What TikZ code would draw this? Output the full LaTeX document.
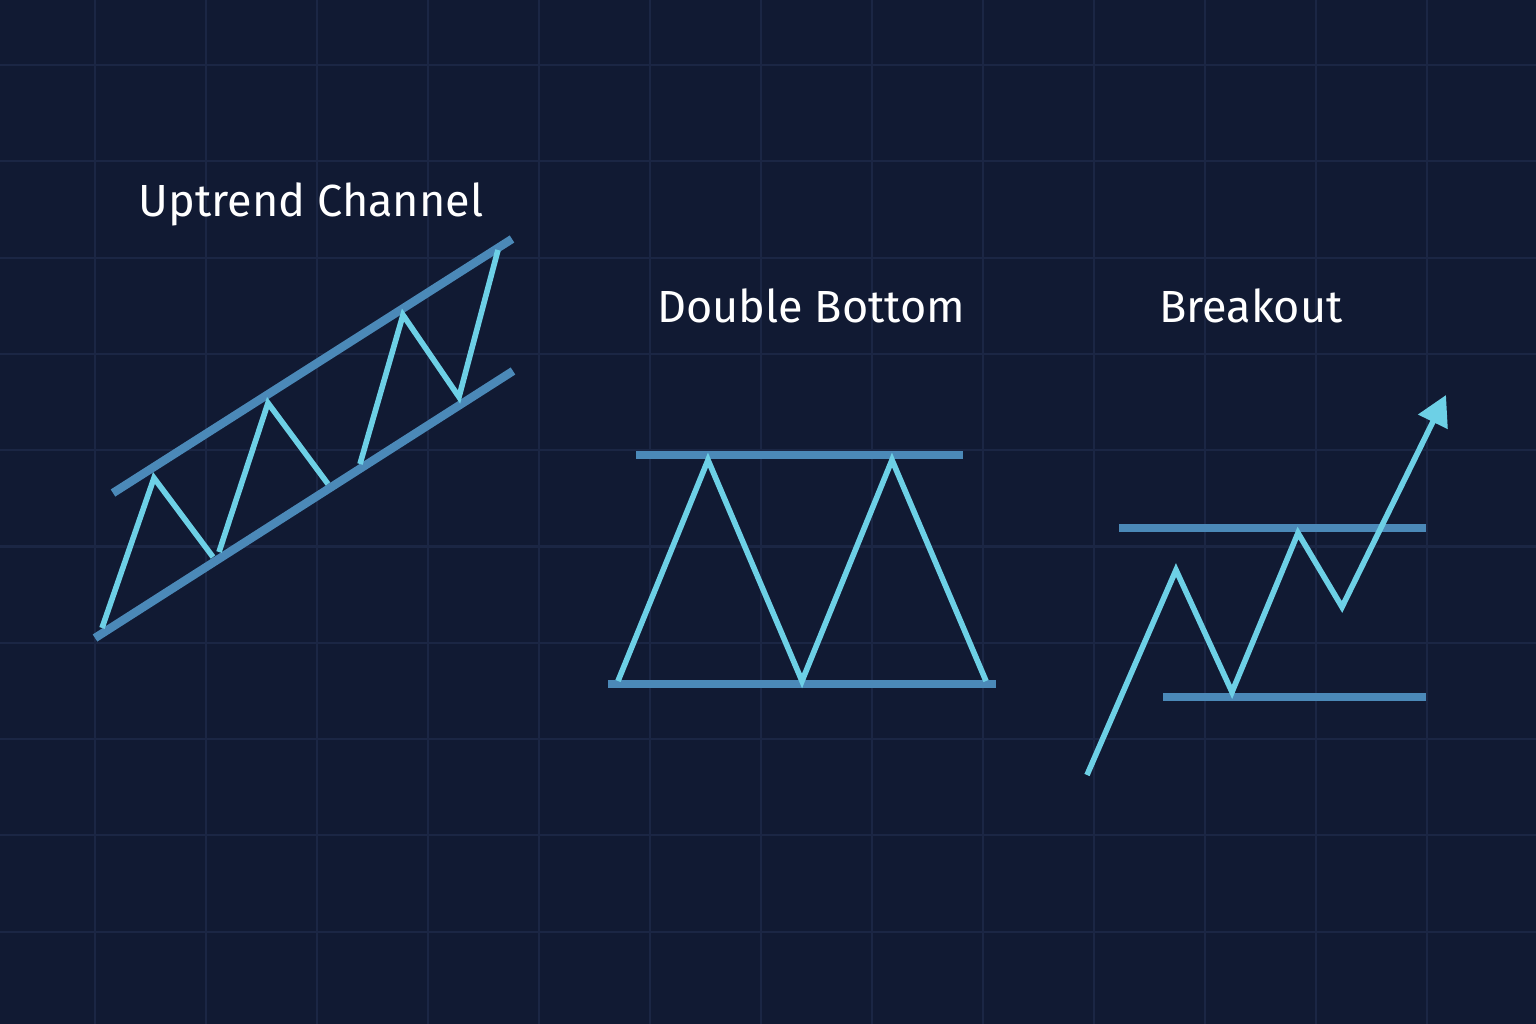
\documentclass[tikz,border=0pt]{standalone}
\usepackage{fontspec}
\setmainfont{Fira Sans}
\usetikzlibrary{arrows.meta}
\definecolor{bgnavy}{HTML}{111A33}
\definecolor{gridnavy}{HTML}{1B2644}
\definecolor{chanblue}{HTML}{4B89B8}
\definecolor{pricecyan}{HTML}{6DD0E6}
\begin{document}
\begin{tikzpicture}[
            x=0.01cm, y=-0.01cm,
            channel/.style={draw=chanblue,line width=2.4pt},
            price/.style={draw=pricecyan,line width=1.6pt,line join=miter},
            title/.style={text=white,font=\fontsize{12.8}{15}\selectfont,inner sep=0pt}
            ]
            \fill[bgnavy] (0,0) rectangle (1536,1024);
            \useasboundingbox (0,0) rectangle (1536,1024);
            % grid
            \foreach \gx in {0,...,12}
                \draw[gridnavy,line width=0.6pt] ({95+111*\gx},0) -- ({95+111*\gx},1024);
            \foreach \gy in {0,...,9}
                \draw[gridnavy,line width=0.6pt] (0,{65+96.3*\gy}) -- (1536,{65+96.3*\gy});
            % uptrend channel
            \node[title] (upt) at (311,204) {Uptrend Channel};
            \coordinate (u1) at (113,493);
            \coordinate (u2) at (512,239);
            \coordinate (l1) at (95,638);
            \coordinate (l2) at (513,371);
            \draw[channel] (u1) -- (u2);
            \draw[channel] (l1) -- (l2);
            \draw[price] (102,628) -- (154,478) -- (213,557);
            \draw[price] (219,552) -- (268,403) -- (328,484);
            \draw[price] (360,464) -- (403,315) -- (459,397) -- (498,250);
            % double bottom
            \node[title] (dbl) at (811,306) {Double Bottom};
            \coordinate (dt1) at (636,455);
            \coordinate (dt2) at (963,455);
            \coordinate (db1) at (608,684);
            \coordinate (db2) at (996,684);
            \draw[channel] (dt1) -- (dt2);
            \draw[channel] (db1) -- (db2);
            \draw[price] (618,681) -- (708,460) -- (802,681) -- (892,460) -- (986,681);
            % breakout
            \node[title] (brk) at (1251,306) {Breakout};
            \coordinate (bt1) at (1119,528);
            \coordinate (bt2) at (1426,528);
            \coordinate (bb1) at (1163,697);
            \coordinate (bb2) at (1426,697);
            \draw[channel] (bt1) -- (bt2);
            \draw[channel] (bb1) -- (bb2);
            \coordinate (tip) at (1446,395);
            \draw[price,-{Triangle[length=8.5pt,width=9pt]}] (1087,775) -- (1176,570) -- (1232,692) -- (1298,533) -- (1342,607) -- (tip);
        \end{tikzpicture}
\end{document}
